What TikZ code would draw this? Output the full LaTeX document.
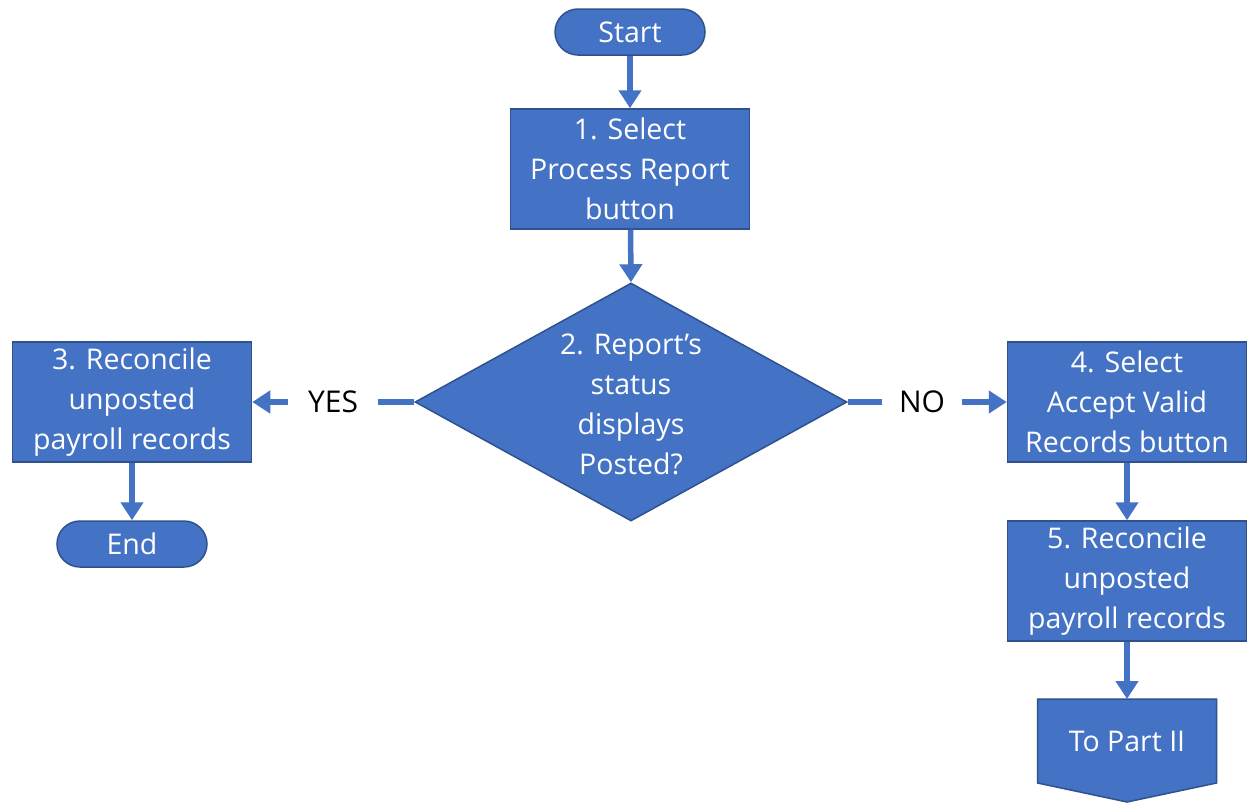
\documentclass[tikz,border=0pt]{standalone}
\usepackage{fontspec}
\setmainfont{Open Sans}
\usetikzlibrary{arrows.meta,shapes.geometric}
\definecolor{fillblue}{HTML}{4472C4}
\definecolor{edgeblue}{HTML}{2F528F}
\begin{document}
\begin{tikzpicture}[x=1pt,y=-1pt,
  every node/.style={font=\fontsize{28.5}{40}\selectfont},
  box/.style={draw=edgeblue, fill=fillblue, line width=1.5pt, text=white, align=center, inner sep=0pt},
  procbox/.style={box, rectangle, minimum width=239pt, minimum height=120pt},
  term/.style={box, rectangle, rounded corners=23pt, minimum width=150pt, minimum height=46pt},
  conn/.style={draw=fillblue, line width=5.5pt},
  arr/.style={conn, -{Triangle[length=18pt,width=22pt]}},
  lbl/.style={text=black, inner sep=0pt, minimum height=30pt, font=\fontsize{30}{40}\selectfont}
]
\useasboundingbox (0,0) rectangle (1247,803);

\node[term] (start) at (630,32) {Start};
\node[procbox] (b1) at (630,169) {1. Select\\Process Report\\button};
\node[box, diamond, minimum width=432pt, minimum height=238pt,
  label={[text=white, align=center, yshift=-2pt]center:{2. Report’s\\status\\displays\\Posted?}}] (dia) at (631,402) {};
\node[procbox] (b3) at (132,402) {3. Reconcile\\unposted\\payroll records};
\node[term] (end) at (132,544) {End};
\node[procbox] (b4) at (1127,402) {4. Select\\Accept Valid\\Records button};
\node[procbox] (b5) at (1127,581) {5. Reconcile\\unposted\\payroll records};

\draw[box] (1037.5,699) -- (1216.5,699) -- (1216.5,783) -- (1127,802) -- (1037.5,783) -- cycle;
\node[inner sep=0pt, minimum width=179pt, minimum height=84pt, anchor=north, text=white] (p2) at (1127,699) {To Part II};

\node[lbl, minimum width=90pt] (yes) at (333,402) {YES};
\node[lbl, minimum width=80pt] (no) at (922,402) {NO};

\draw[arr] (start) -- (b1);
\draw[arr] (b1) -- (dia.north);
\draw[conn] (dia.west) -- (yes.east);
\draw[arr] (yes.west) -- (b3.east);
\draw[arr] (b3) -- (end);
\draw[conn] (dia.east) -- (no.west);
\draw[arr] (no.east) -- (b4.west);
\draw[arr] (b4) -- (b5);
\draw[arr] (b5) -- (p2.north);
\end{tikzpicture}
\end{document}
